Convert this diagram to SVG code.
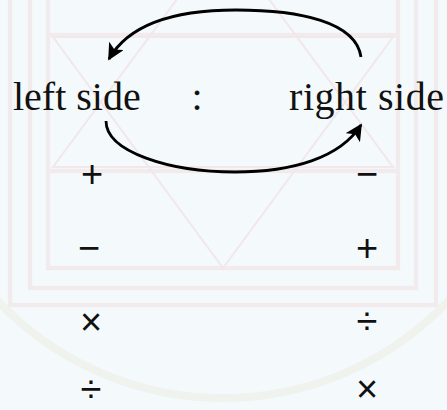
<svg xmlns="http://www.w3.org/2000/svg" width="447" height="410" viewBox="0 0 447 410">
  <defs>
    <style>
      .wm { fill: none; stroke: #f1e5e8; stroke-width: 4.5; }
      .star { fill: none; stroke: #f2dfe3; stroke-width: 2; }
      .lbl { font-family: "Liberation Serif", "Times New Roman", serif; font-size: 40px; fill: #111; }
      .op { font-family: "Liberation Sans", Arial, sans-serif; font-size: 38px; fill: #111; text-anchor: middle; }
      .conn { fill: none; stroke: #000; stroke-width: 2.8; }
    </style>
    <marker id="ah" viewBox="0 0 10 10" refX="9" refY="5" markerWidth="6" markerHeight="6" markerUnits="strokeWidth" orient="auto">
      <path d="M0,0 L10,5 L0,10 L2.5,5 Z" fill="#000"/>
    </marker>
  </defs>
  <rect width="447" height="410" fill="#f4fafc"/>
  <g id="watermark" opacity="0.7">
    <circle cx="223" cy="88" r="310" fill="none" stroke="#eff1e8" stroke-width="8"/>
    <path class="wm" d="M10,0 V305 H436 V0"/>
    <path class="wm" d="M30,0 V288 H416 V0"/>
    <path class="wm" d="M48,0 V268 H398 V0"/>
    <line class="wm" x1="48" y1="35" x2="398" y2="35"/>
    <line class="wm" x1="48" y1="171" x2="398" y2="171"/>
    <path class="star" d="M53,37 L393,37 L223,268 Z"/>
    <path class="star" d="M53,167 L393,167 L223,-63 Z"/>
  </g>
  <g id="connectors">
    <path class="conn" marker-end="url(#ah)" d="M361,57 C356,22 300,10 236,10 C178,10 130,22 109,59"/>
    <path class="conn" marker-end="url(#ah)" d="M106,121 C106,152 170,172 235,172 C292,172 340,158 361,125"/>
  </g>
  <g id="left-side"><text class="lbl" x="13" y="110">left side</text></g>
  <g id="colon"><text class="lbl" x="197" y="110" text-anchor="middle">:</text></g>
  <g id="right-side"><text class="lbl" x="289" y="110" textLength="155">right side</text></g>
  <g id="ops-left">
    <text class="op" x="92" y="187">+</text>
    <text class="op" x="89" y="261">−</text>
    <text class="op" x="91" y="335">×</text>
    <text class="op" x="91" y="402">÷</text>
  </g>
  <g id="ops-right">
    <text class="op" x="367" y="187">−</text>
    <text class="op" x="367" y="261">+</text>
    <text class="op" x="367" y="334">÷</text>
    <text class="op" x="367" y="402">×</text>
  </g>
</svg>
